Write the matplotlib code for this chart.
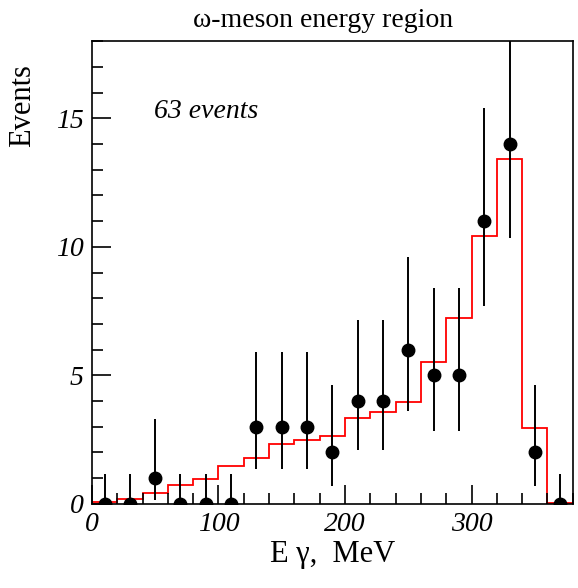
import numpy as np
from matplotlib import pyplot as plt
from matplotlib.ticker import MultipleLocator

plt.rcParams['font.family'] = ['Liberation Serif', 'DejaVu Serif']

# data points (bin centres, counts, asymmetric errors)
e_pts = [10, 30, 50, 70, 90, 110, 130, 150, 170, 190,
         210, 230, 250, 270, 290, 310, 330, 350, 370]
counts = [0, 0, 1, 0, 0, 0, 3, 3, 3, 2, 4, 4, 6, 5, 5, 11, 14, 2, 0]
err_lo = [0, 0, 0.83, 0, 0, 0, 1.63, 1.63, 1.63, 1.29,
          1.91, 1.91, 2.4, 2.16, 2.16, 3.3, 3.65, 1.29, 0]
err_hi = [1.15, 1.15, 2.3, 1.15, 1.15, 1.15, 2.92, 2.92, 2.92, 2.64,
          3.16, 3.16, 3.6, 3.38, 3.38, 4.4, 4.84, 2.64, 1.15]

# simulated histogram (20 MeV bins)
edges = np.arange(0, 400, 20)
mc = [0.08, 0.18, 0.43, 0.75, 0.96, 1.48, 1.78, 2.33, 2.5, 2.65,
      3.33, 3.58, 3.98, 5.51, 7.23, 10.43, 13.41, 2.95, 0.05]

fig = plt.figure(figsize=(5.78, 5.88), dpi=100)
ax = fig.add_axes([0.159, 0.143, 0.832, 0.787])

ax.stairs(mc, edges, color='red', linewidth=1.3)
ax.errorbar(e_pts, counts, yerr=[err_lo, err_hi], fmt='o', color='black',
            markersize=9, elinewidth=1.4, capsize=0)

ax.set_xlim(0, 380)
ax.set_ylim(0, 18)
ax.xaxis.set_major_locator(MultipleLocator(100))
ax.xaxis.set_minor_locator(MultipleLocator(20))
ax.yaxis.set_major_locator(MultipleLocator(5))
ax.yaxis.set_minor_locator(MultipleLocator(1))
ax.tick_params(which='both', direction='in', top=False, right=False,
               width=1.2, labelsize=20, pad=6)
ax.tick_params(which='major', length=14)
ax.tick_params(which='minor', length=8)
for lab in ax.get_xticklabels() + ax.get_yticklabels():
    lab.set_fontstyle('italic')
for s in ax.spines.values():
    s.set_linewidth(1.2)

ax.text(0.13, 0.835, '63 events', transform=ax.transAxes, fontsize=20,
        style='italic')
ax.set_title('ω-meson energy region', fontsize=20, pad=10, x=0.48)
ax.set_xlabel('E γ,  MeV', fontsize=22, labelpad=2)
ax.set_ylabel('Events', fontsize=22)
ax.yaxis.set_label_coords(-0.115, 0.86)

fig.savefig('out.png', dpi=100)
